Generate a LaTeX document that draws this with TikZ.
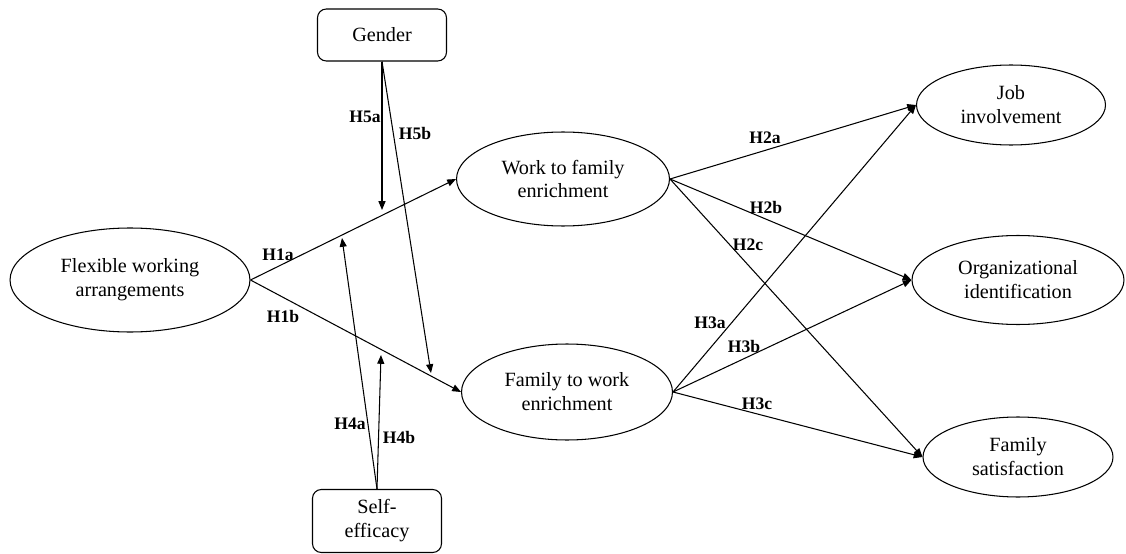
\documentclass[tikz,border=0pt]{standalone}
\usepackage{fontspec}
\setmainfont{Liberation Serif}
\usetikzlibrary{shapes.geometric,arrows.meta}

\begin{document}
\begin{tikzpicture}[x=0.02cm,y=-0.02cm,
    latent/.style={draw, ellipse, inner sep=0pt, line width=0.6pt, align=center,
        font=\fontsize{11.5}{13.6}\selectfont},
    modbox/.style={draw, rounded corners=5pt, inner sep=0pt, line width=0.6pt, align=center,
        minimum width=2.58cm, font=\fontsize{11.5}{13.6}\selectfont},
    hyp/.style={-{Triangle[length=5pt,width=4pt]}, line width=0.6pt},
    hlabel/.style={font=\fontsize{10}{12}\selectfont\bfseries, inner sep=1pt}]

    % Page size of the reference
    \useasboundingbox (0,0) rectangle (1126,554);

    % Constructs
    \node[latent, minimum width=4.8cm, minimum height=2.08cm] (fwa) at (130,280) {Flexible working\\arrangements};
    \node[latent, minimum width=4.26cm, minimum height=1.88cm] (wfe) at (563,179) {Work to family\\enrichment};
    \node[latent, minimum width=4.22cm, minimum height=1.92cm] (fwe) at (567,392) {Family to work\\enrichment};
    \node[latent, minimum width=3.78cm, minimum height=1.6cm] (ji) at (1011,105) {Job\\involvement};
    \node[latent, minimum width=4.24cm, minimum height=1.78cm] (oi) at (1018,280) {Organizational\\identification};
    \node[latent, minimum width=3.8cm, minimum height=1.6cm] (fs) at (1018,457) {Family\\satisfaction};

    % Moderators
    \node[modbox, minimum height=1.04cm] (gender) at (382,35) {Gender};
    \node[modbox, minimum height=1.26cm] (se) at (377,521) {Self-\\efficacy};

    % Main paths
    \draw[hyp] (fwa.east) -- (wfe.west);
    \draw[hyp] (fwa.east) -- (fwe.west);
    \draw[hyp] (wfe.east) -- (ji.west);
    \draw[hyp] (wfe.east) -- (oi.west);
    \draw[hyp] (wfe.east) -- (fs.west);
    \draw[hyp] (fwe.east) -- (ji.west);
    \draw[hyp] (fwe.east) -- (oi.west);
    \draw[hyp] (fwe.east) -- (fs.west);

    % Moderating paths, ending just off the main paths
    \coordinate (h5aend) at (382,210);
    \coordinate (h5bend) at (431,373);
    \coordinate (h4aend) at (342,238);
    \coordinate (h4bend) at (381,355);
    \draw[hyp] (gender.south) -- (h5aend);
    \draw[hyp] (gender.south) -- (h5bend);
    \draw[hyp] (se.north) -- (h4aend);
    \draw[hyp] (se.north) -- (h4bend);

    % Hypothesis labels
    \node[hlabel] (lh1a) at (278,255) {H1a};
    \node[hlabel] (lh1b) at (283,316) {H1b};
    \node[hlabel] (lh2a) at (765,138) {H2a};
    \node[hlabel] (lh2b) at (766,207) {H2b};
    \node[hlabel] (lh2c) at (748,245) {H2c};
    \node[hlabel] (lh3a) at (710,323) {H3a};
    \node[hlabel] (lh3b) at (744,346) {H3b};
    \node[hlabel] (lh3c) at (757,404) {H3c};
    \node[hlabel] (lh4a) at (350,424) {H4a};
    \node[hlabel] (lh4b) at (399,437) {H4b};
    \node[hlabel] (lh5a) at (365,117) {H5a};
    \node[hlabel] (lh5b) at (415,133) {H5b};

\end{tikzpicture}
\end{document}
